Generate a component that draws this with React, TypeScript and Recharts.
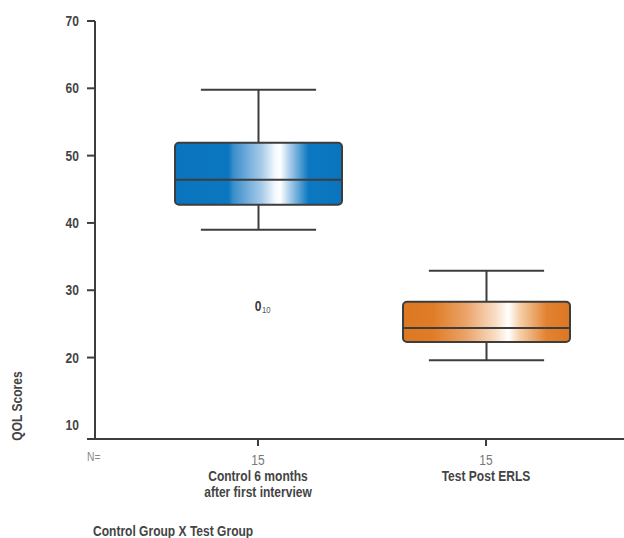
import React from 'react';
import { ComposedChart, Bar, Scatter, XAxis, YAxis } from 'recharts';

const categories = ['Control 6 months\nafter first interview', 'Test Post ERLS'];
const counts = [15, 15];
const minValues = [39.0, 19.6];
const q1Values = [42.7, 22.3];
const medianValues = [46.4, 24.4];
const q3Values = [51.9, 28.3];
const maxValues = [59.8, 32.9];
const outlierValues: (number | null)[] = [27.6, null];
const outlierLabels = ['10', ''];
const yTicks = [10, 20, 30, 40, 50, 60, 70];

const FONT = "'Liberation Sans', Arial, sans-serif";
const SX = 0.86;

const gradients = [
  {
    id: 'gradBlue',
    stops: [
      [0, '#0a75be'], [32, '#0b77c0'], [35, '#3b8ecc'], [52, '#a9cbe9'], [60, '#f4f9fd'],
      [63, '#ffffff'], [69, '#a6cbe9'], [80, '#0b78c1'], [100, '#0a75be'],
    ],
  },
  {
    id: 'gradOrange',
    stops: [
      [0, '#dd7822'], [18, '#df7c27'], [38, '#eba46a'], [56, '#f9dfc7'], [63, '#ffffff'],
      [70, '#f6cfa8'], [86, '#e28231'], [100, '#dc7722'],
    ],
  },
];

const data = categories.map((c, i) => ({
  name: c,
  n: counts[i],
  range: [minValues[i], maxValues[i]],
  min: minValues[i],
  q1: q1Values[i],
  median: medianValues[i],
  q3: q3Values[i],
  max: maxValues[i],
  outlier: outlierValues[i],
  outlierLabel: outlierLabels[i],
  grad: gradients[i].id,
}));

const NText = ({ x, y, anchor = 'start', size = 14, bold = true, fill = '#444', rotate = 0, dy, children }: any) => (
  <g transform={`translate(${x},${y}) rotate(${rotate}) scale(${SX},1)`}>
    <text x={0} y={0} dy={dy} textAnchor={anchor} fontFamily={FONT} fontWeight={bold ? 'bold' : 'normal'} fontSize={size} fill={fill}>
      {children}
    </text>
  </g>
);

const BoxShape = (props: any) => {
  const { x, y, width, height, payload } = props;
  if (payload == null || !Number.isFinite(y)) return null;
  const top = Math.min(y, y + height);
  const h = Math.abs(height);
  const ppu = h / (payload.max - payload.min);
  const py = (v: number) => top + (payload.max - v) * ppu;
  const cx = x + width / 2;
  const capW = width * 0.69;
  const g = gradients.find((gg) => gg.id === payload.grad)!;
  const stroke = '#3d3d3d';
  return (
    <g>
      <defs>
        <linearGradient id={g.id} x1="0" y1="0" x2="1" y2="0">
          {g.stops.map(([o, c]) => (
            <stop key={String(o)} offset={`${o}%`} stopColor={c as string} />
          ))}
        </linearGradient>
      </defs>
      <line x1={cx - capW / 2} x2={cx + capW / 2} y1={py(payload.max)} y2={py(payload.max)} stroke={stroke} strokeWidth={2} />
      <line x1={cx} x2={cx} y1={py(payload.max)} y2={py(payload.q3)} stroke={stroke} strokeWidth={2} />
      <line x1={cx - capW / 2} x2={cx + capW / 2} y1={py(payload.min)} y2={py(payload.min)} stroke={stroke} strokeWidth={2} />
      <line x1={cx} x2={cx} y1={py(payload.min)} y2={py(payload.q1)} stroke={stroke} strokeWidth={2} />
      <rect
        x={x}
        y={py(payload.q3)}
        width={width}
        height={py(payload.q1) - py(payload.q3)}
        rx={4}
        ry={4}
        fill={`url(#${g.id})`}
        stroke={stroke}
        strokeWidth={2}
      />
      <line x1={x} x2={x + width} y1={py(payload.median)} y2={py(payload.median)} stroke={stroke} strokeWidth={2} />
    </g>
  );
};

const OutlierShape = (props: any) => {
  const { cx, cy, payload } = props;
  if (payload == null || payload.outlier == null || !Number.isFinite(cy)) return null;
  return (
    <g>
      <NText x={cx} y={cy} dy="0.36em" anchor="middle" size={14} fill="#3a3a3a">0</NText>
      <NText x={cx + 4} y={cy + 7} size={9} bold={false} fill="#555">{payload.outlierLabel}</NText>
    </g>
  );
};

const YTick = (props: any) => {
  const { x, y, payload } = props;
  return (
    <g>
      {payload.value !== 10 && <line x1={x + 8} x2={x + 16} y1={y} y2={y} stroke="#3d3d3d" strokeWidth={2} />}
      <NText x={x} y={y} dy="0.36em" anchor="end" size={14} fill="#444">{payload.value}</NText>
    </g>
  );
};

const XTick = (props: any) => {
  const { x, y, payload, index } = props;
  const lines = String(payload.value).split('\n');
  return (
    <g>
      <line x1={x} x2={x} y1={y} y2={y + 7} stroke="#3d3d3d" strokeWidth={2} />
      <NText x={x} y={y + 26} anchor="middle" size={14} bold={false} fill="#777">{counts[index]}</NText>
      {lines.map((l, i) => (
        <NText key={i} x={x} y={y + 42 + i * 16} anchor="middle" size={14} fill="#444">{l}</NText>
      ))}
    </g>
  );
};

export default function App() {
  return (
    <div style={{ position: 'absolute', left: 0, top: 0, width: 624, height: 538, background: '#fff' }}>
      <ComposedChart width={624} height={538} data={data} margin={{ top: 21, right: 0, bottom: 39, left: 35 }}>
        <XAxis
          dataKey="name"
          type="category"
          padding={{ left: 49, right: 24 }}
          height={60}
          axisLine={{ stroke: '#3d3d3d', strokeWidth: 2 }}
          tickLine={false}
          tickSize={0}
          tickMargin={0}
          tick={<XTick />}
          interval={0}
        />
        <YAxis
          type="number"
          domain={[7.9, 70]}
          ticks={yTicks}
          width={60}
          axisLine={{ stroke: '#3d3d3d', strokeWidth: 2 }}
          tickLine={false}
          tickSize={8}
          tickMargin={8}
          tick={<YTick />}
          allowDataOverflow
        />
        <Bar dataKey="range" barSize={167} shape={<BoxShape />} isAnimationActive={false} />
        <Scatter dataKey="outlier" shape={<OutlierShape />} isAnimationActive={false} />
      </ComposedChart>
      <svg width={624} height={538} style={{ position: 'absolute', left: 0, top: 0, pointerEvents: 'none' }}>
        <line x1={87} x2={95} y1={439} y2={439} stroke="#3d3d3d" strokeWidth={2} />
        <NText x={87} y={461} size={12} bold={false} fill="#888">N=</NText>
        <NText x={22} y={406} rotate={-90} anchor="middle" size={14} fill="#444">QOL Scores</NText>
        <NText x={93} y={536} size={14} fill="#444">Control Group X Test Group</NText>
      </svg>
    </div>
  );
}
